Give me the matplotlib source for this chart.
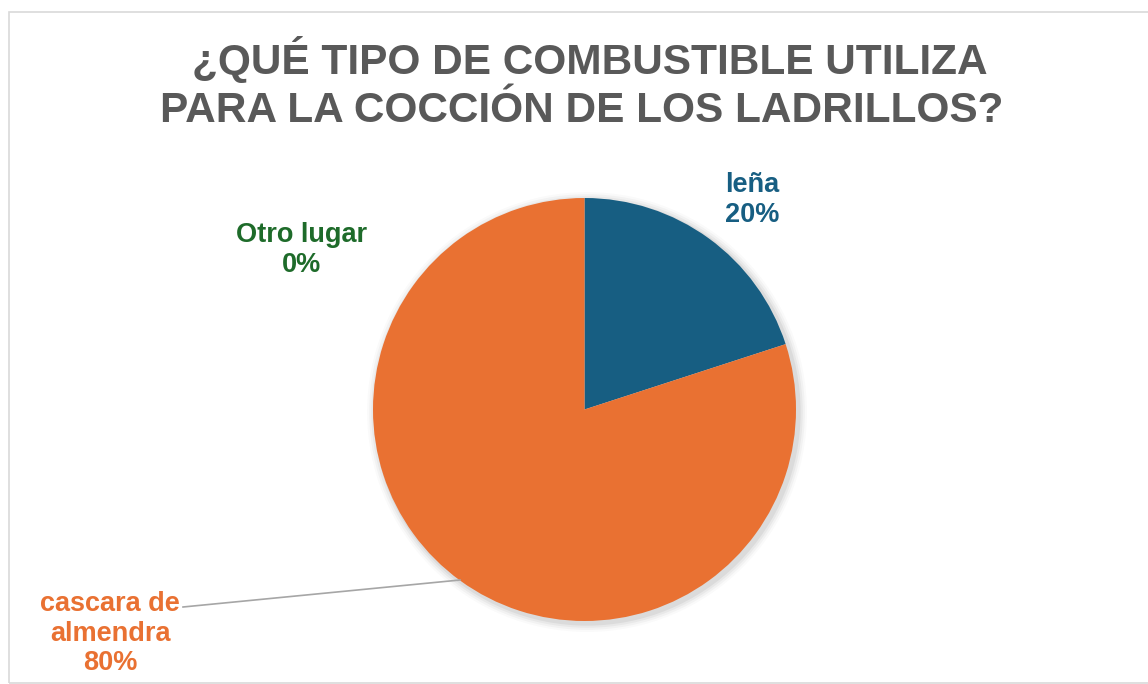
import matplotlib.pyplot as plt
from matplotlib.patches import Circle, Rectangle
from matplotlib.lines import Line2D

# Data
categories = ['leña', 'cascara de\nalmendra', 'Otro lugar']
values = [20, 80, 0]
colors = ['#175E82', '#E97132', '#1E6B2A']

plt.rcParams['font.family'] = ['Liberation Sans', 'DejaVu Sans']

W, H = 1148, 684
fig = plt.figure(figsize=(W / 100, H / 100), dpi=100)

# chart frame (light gray)
fig.patches.append(Rectangle((9 / W, 1 / H), 1.2, (683 - 12) / H, transform=fig.transFigure,
                             fill=False, edgecolor='#D9D9D9', linewidth=1.2))

fig.text(590 / W, 1 - 74 / H, '¿QUÉ TIPO DE COMBUSTIBLE UTILIZA', ha='center', va='baseline',
         fontsize=30.5, fontweight='bold', color='#595959')
fig.text(582 / W, 1 - 122 / H, 'PARA LA COCCIÓN DE LOS LADRILLOS?', ha='center', va='baseline',
         fontsize=30.5, fontweight='bold', color='#595959')

cx, cy, r = 584.5, 409.5, 211.5
ax = fig.add_axes([(cx - r) / W, (H - cy - r) / H, 2 * r / W, 2 * r / H])

# soft shadow
for i, a in enumerate([0.05, 0.04, 0.03, 0.02]):
    ax.add_patch(Circle((0.012, -0.012), 1 + 0.01 * (i + 1), color='black', alpha=a,
                        linewidth=0, clip_on=False, zorder=0))

ax.pie(values, colors=colors, startangle=90, counterclock=False, radius=1,
       wedgeprops=dict(linewidth=0), normalize=True)
ax.set_xlim(-1, 1)
ax.set_ylim(-1, 1)
ax.set_aspect('equal')
ax.axis('off')

pct = [f'{v}%' for v in values]
lab = dict(ha='center', va='center', fontsize=19.5, fontweight='bold', linespacing=1.17,
           clip_on=False)
ax.text(0.792, 0.99, f'{categories[0]}\n{pct[0]}', color=colors[0], **lab)
ax.text(-1.336, 0.755, f'{categories[2]}\n{pct[2]}', color=colors[2], **lab)
ax.text(-2.243, -1.06, f'{categories[1]}\n{pct[1]}', color=colors[1], **lab)

# leader line
x0, y0 = (183 - cx) / r, (cy - 607) / r
x1, y1 = (460 - cx) / r, (cy - 580) / r
ax.add_line(Line2D([x0, x1], [y0, y1], color='#A6A6A6', linewidth=1.2, clip_on=False))

fig.savefig('out.png', dpi=100, facecolor='white')
